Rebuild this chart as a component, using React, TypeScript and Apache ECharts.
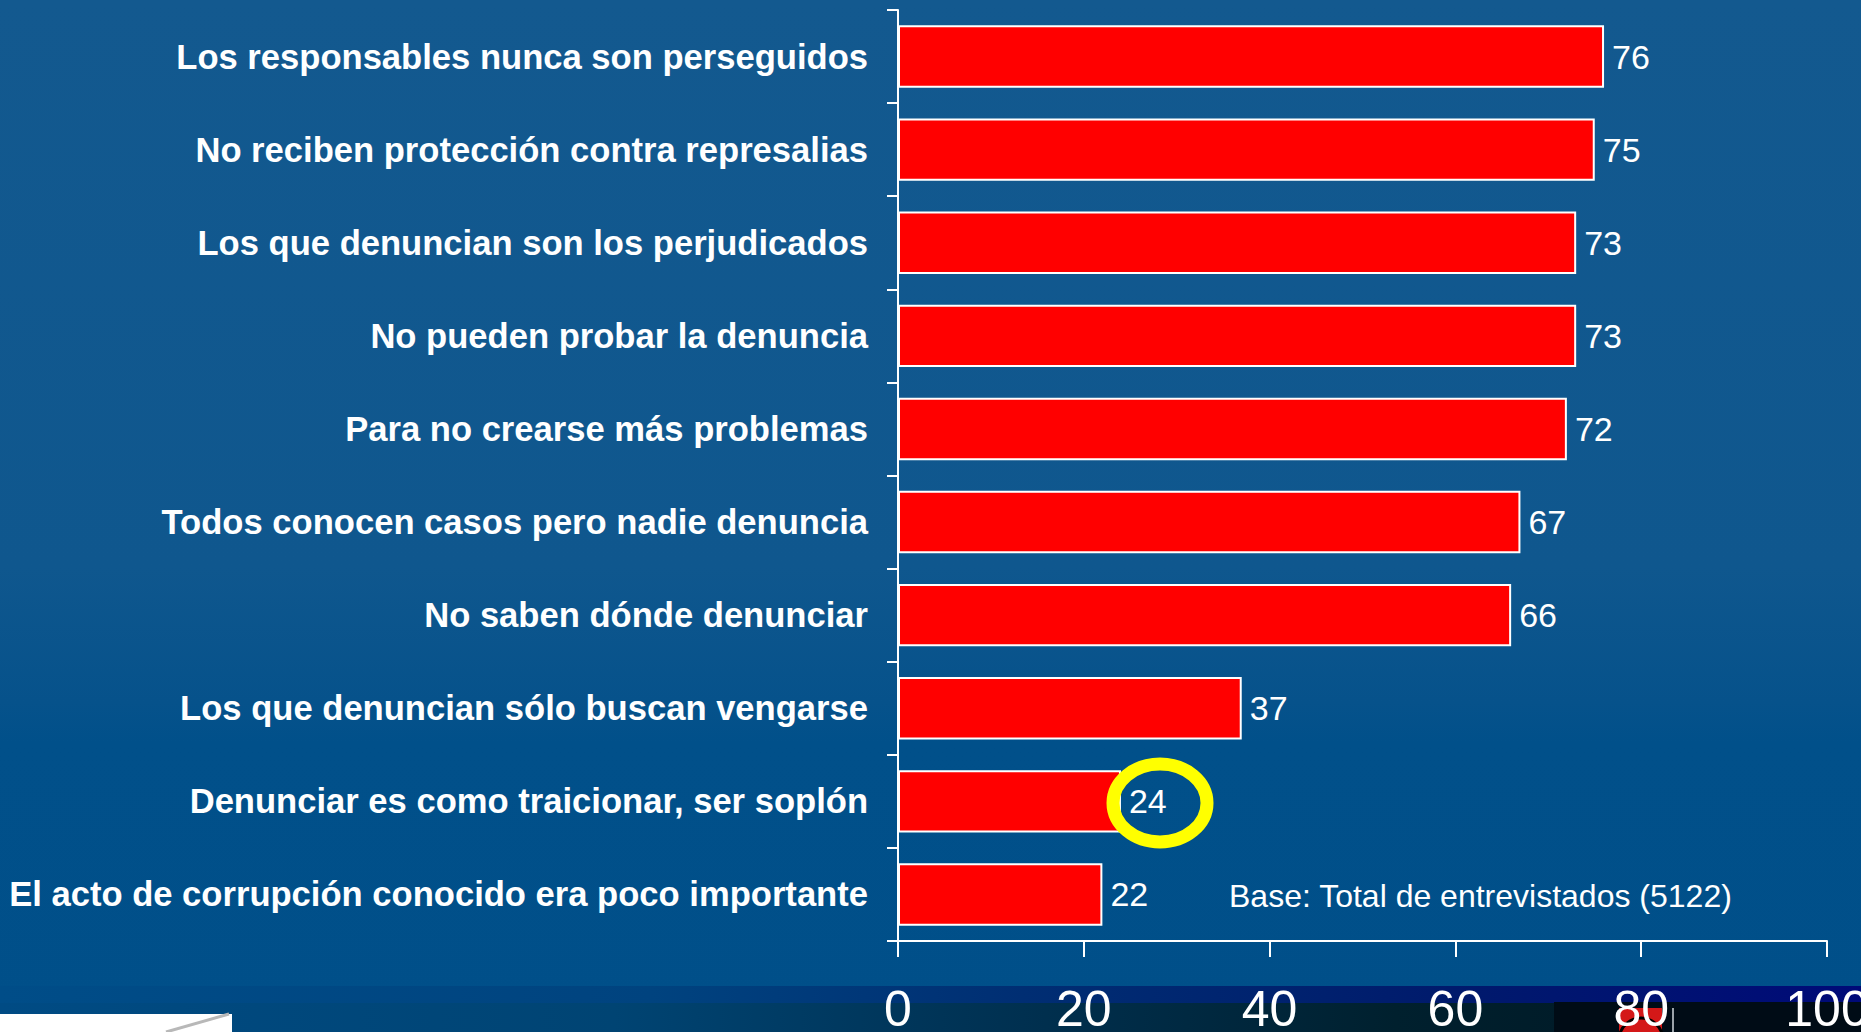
import React, { useEffect, useRef } from "react";
import * as echarts from "echarts";

const categories = [
  "Los responsables nunca son perseguidos",
  "No reciben protección contra represalias",
  "Los que denuncian son los perjudicados",
  "No pueden probar la denuncia",
  "Para no crearse más problemas",
  "Todos conocen casos pero nadie denuncia",
  "No saben dónde denunciar",
  "Los que denuncian sólo buscan vengarse",
  "Denunciar es como traicionar, ser soplón",
  "El acto de corrupción conocido era poco importante",
];
const values = [76, 75, 73, 73, 72, 67, 66, 37, 24, 22];
const xTicks = [0, 20, 40, 60, 80, 100];
const baseNote = "Base: Total de entrevistados (5122)";

const FONT = '"Liberation Sans", Arial, sans-serif';

export default function App() {
  const ref = useRef<HTMLDivElement>(null);

  useEffect(() => {
    document.body.style.margin = "0";
    const el = ref.current!;
    const chart = echarts.init(el, undefined, { renderer: "svg" });

    chart.setOption({
      animation: false,
      backgroundColor: "transparent",
      textStyle: { fontFamily: FONT },
      grid: {
        left: 898,
        right: 34,
        top: 10,
        bottom: 91,
        containLabel: false,
        outerBoundsMode: "none",
      },
      xAxis: {
        type: "value",
        min: xTicks[0],
        max: xTicks[xTicks.length - 1],
        interval: xTicks[1] - xTicks[0],
        axisLine: { show: true, lineStyle: { color: "#ffffff", width: 2 } },
        axisTick: { show: true, length: 16, lineStyle: { color: "#ffffff", width: 2 } },
        splitLine: { show: false },
        axisLabel: {
          color: "#ffffff",
          fontSize: 50,
          fontFamily: FONT,
          margin: 43,
          hideOverlap: false,
          formatter: (v: number) => String(v),
        },
      },
      yAxis: {
        type: "category",
        inverse: true,
        data: categories,
        axisLine: { show: true, lineStyle: { color: "#ffffff", width: 2 } },
        axisTick: { show: true, length: 11, lineStyle: { color: "#ffffff", width: 2 } },
        axisLabel: {
          color: "#ffffff",
          fontSize: 34.6,
          fontWeight: "bold",
          fontFamily: FONT,
          margin: 30,
        },
      },
      series: [
        {
          type: "bar",
          data: values,
          barCategoryGap: "33%",
          itemStyle: { color: "#ff0000", borderColor: "#ffffff", borderWidth: 2 },
          label: {
            show: true,
            position: "right",
            distance: 8,
            color: "#ffffff",
            fontSize: 34,
            fontFamily: FONT,
          },
          z: 2,
        },
      ],
      graphic: [
        {
          type: "rect",
          z: -10,
          shape: { x: 0, y: 986, width: 1861, height: 17 },
          style: {
            fill: new echarts.graphic.LinearGradient(0, 0, 1, 0, [
              { offset: 0, color: "#004d88" },
              { offset: 0.35, color: "#00437f" },
              { offset: 0.55, color: "#002e73" },
              { offset: 0.78, color: "#001a6c" },
              { offset: 1, color: "#000a78" },
            ]),
          },
        },
        {
          type: "rect",
          z: -10,
          shape: { x: 0, y: 1003, width: 1861, height: 29 },
          style: {
            fill: new echarts.graphic.LinearGradient(0, 0, 1, 0, [
              { offset: 0, color: "#004b84" },
              { offset: 0.33, color: "#004473" },
              { offset: 0.55, color: "#003050" },
              { offset: 0.75, color: "#00202e" },
              { offset: 1, color: "#001520" },
            ]),
          },
        },
        {
          type: "rect",
          z: -9,
          shape: { x: 1554, y: 1002, width: 307, height: 30 },
          style: { fill: "#000c16" },
        },
        {
          type: "rect",
          z: -8,
          shape: { x: 1619, y: 1008, width: 43, height: 24 },
          style: { fill: "#d41818" },
        },
        {
          type: "arc",
          z: -7,
          shape: { cx: 1641, cy: 1040, r: 22, startAngle: Math.PI * 1.05, endAngle: Math.PI * 1.95 },
          style: { stroke: "#000000", lineWidth: 3, fill: "none" },
        },
        {
          type: "line",
          z: -7,
          shape: { x1: 1673, y1: 1008, x2: 1673, y2: 1032 },
          style: { stroke: "#cfd6dc", lineWidth: 1.5 },
        },
        {
          type: "rect",
          z: -9,
          shape: { x: 0, y: 1014, width: 232, height: 18 },
          style: { fill: "#ffffff" },
        },
        {
          type: "line",
          z: -8,
          shape: { x1: 166, y1: 1032, x2: 229, y2: 1014 },
          style: { stroke: "#b8b8b8", lineWidth: 3 },
        },
        {
          type: "text",
          z: 10,
          left: 1229,
          top: 880,
          style: {
            text: baseNote,
            fill: "#ffffff",
            font: `32px ${FONT}`,
          },
        },
        {
          type: "ellipse",
          z: 50,
          shape: { cx: 1160, cy: 803, rx: 47, ry: 39 },
          style: { fill: "none", stroke: "#ffff00", lineWidth: 13 },
        },
      ],
    });

    return () => chart.dispose();
  }, []);

  return (
    <div
      ref={ref}
      style={{
        width: 1861,
        height: 1032,
        background:
          "linear-gradient(180deg, #13598f 0%, #0f578e 55%, #06528b 68%, #01508a 72%, #004f89 100%)",
      }}
    />
  );
}
